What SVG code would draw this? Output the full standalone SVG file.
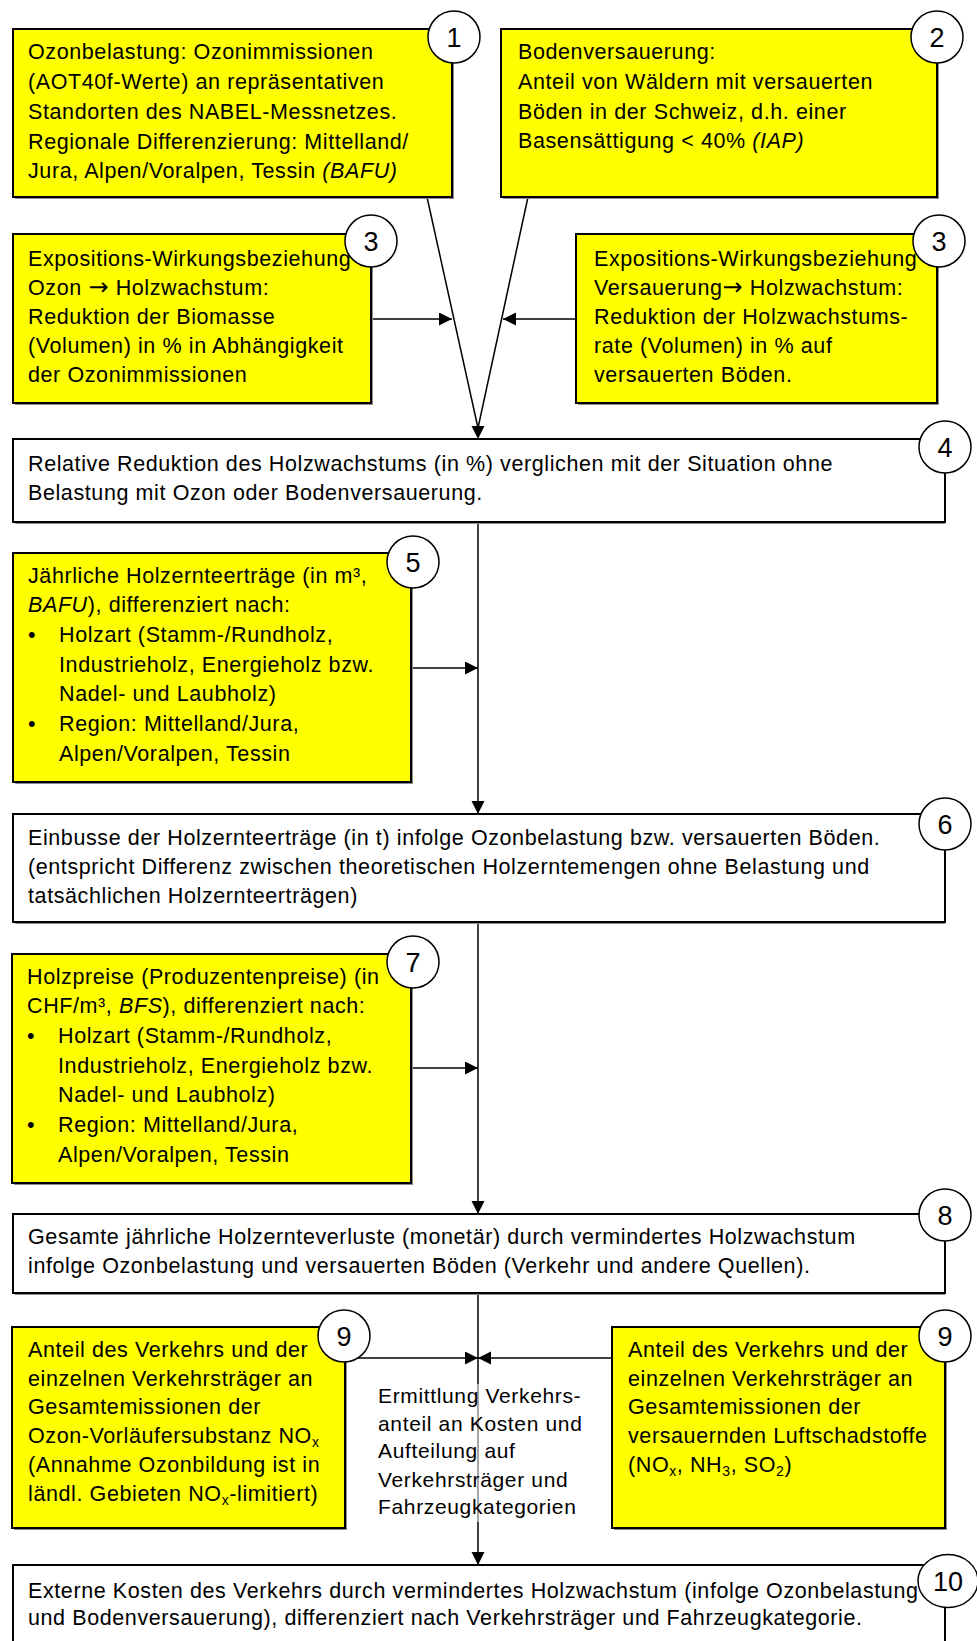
<svg xmlns="http://www.w3.org/2000/svg" width="977" height="1641" viewBox="0 0 977 1641">
<defs>
<style>
.t{font-family:"Liberation Sans",Arial,sans-serif;font-size:21.5px;letter-spacing:0.6px;fill:#000}
.c{font-family:"Liberation Sans",Arial,sans-serif;font-size:21px;letter-spacing:0.65px;fill:#000}
.n{font-family:"Liberation Sans",Arial,sans-serif;font-size:27px;fill:#000;text-anchor:middle}
.y{fill:#ffff00;stroke:#000;stroke-width:2}
.w{fill:#fff;stroke:#000;stroke-width:2}
.sh{fill:#8c8c8c}
.ci{fill:#fff;stroke:#000;stroke-width:1.5}
.ln{stroke:#000;stroke-width:1.5;fill:none}
.i{font-style:italic}
.ar{font-family:"DejaVu Sans",sans-serif;font-size:24px}
</style>
<marker id="ah" markerUnits="userSpaceOnUse" markerWidth="14" markerHeight="14" refX="13" refY="6.5" orient="auto">
<path d="M0,0 L13,6.5 L0,13 z" fill="#000"/>
</marker>
</defs>
<rect width="977" height="1641" fill="#fff"/>

<g id="connectors">
<line class="ln" x1="427" y1="197" x2="478" y2="428"/>
<line class="ln" x1="528" y1="197" x2="478" y2="428"/>
<polygon points="471.5,426 484.5,426 478,439" fill="#000"/>
<line class="ln" x1="373" y1="319" x2="452" y2="319" marker-end="url(#ah)"/>
<line class="ln" x1="576" y1="319" x2="503" y2="319" marker-end="url(#ah)"/>
<line class="ln" x1="478" y1="522" x2="478" y2="814" marker-end="url(#ah)"/>
<line class="ln" x1="411" y1="668" x2="478" y2="668" marker-end="url(#ah)"/>
<line class="ln" x1="478" y1="922" x2="478" y2="1214" marker-end="url(#ah)"/>
<line class="ln" x1="411" y1="1068" x2="478" y2="1068" marker-end="url(#ah)"/>
<line class="ln" x1="478" y1="1293" x2="478" y2="1384"/>
<line x1="478" y1="1384" x2="478" y2="1522" stroke="#888" stroke-width="1.5"/>
<line class="ln" x1="478" y1="1522" x2="478" y2="1565" marker-end="url(#ah)"/>
<line class="ln" x1="345" y1="1358" x2="478" y2="1358" marker-end="url(#ah)"/>
<line class="ln" x1="612" y1="1358" x2="478" y2="1358" marker-end="url(#ah)"/>
</g>

<g id="node1">
<rect class="sh" x="15" y="31" width="439" height="168"/>
<rect class="y" x="13" y="29" width="439" height="168"/>
<text class="t" x="28" y="59">Ozonbelastung: Ozonimmissionen</text>
<text class="t" x="28" y="89">(AOT40f-Werte) an repräsentativen</text>
<text class="t" x="28" y="119">Standorten des NABEL-Messnetzes.</text>
<text class="t" x="28" y="149">Regionale Differenzierung: Mittelland/</text>
<text class="t" x="28" y="178">Jura, Alpen/Voralpen, Tessin <tspan class="i">(BAFU)</tspan></text>
<circle class="ci" cx="454" cy="37" r="26"/>
<text class="n" x="454" y="46.5">1</text>
</g>

<g id="node2">
<rect class="sh" x="503" y="31" width="436" height="168"/>
<rect class="y" x="501" y="29" width="436" height="168"/>
<text class="t" x="518" y="59">Bodenversauerung:</text>
<text class="t" x="518" y="89">Anteil von Wäldern mit versauerten</text>
<text class="t" x="518" y="119">Böden in der Schweiz, d.h. einer</text>
<text class="t" x="518" y="148">Basensättigung &lt; 40% <tspan class="i">(IAP)</tspan></text>
<circle class="ci" cx="937" cy="37" r="26"/>
<text class="n" x="937" y="46.5">2</text>
</g>

<g id="node3a">
<rect class="sh" x="15" y="236" width="358" height="169"/>
<rect class="y" x="13" y="234" width="358" height="169"/>
<text class="t" x="28" y="266">Expositions-Wirkungsbeziehung</text>
<text class="t" x="28" y="295">Ozon <tspan class="ar">→</tspan> Holzwachstum:</text>
<text class="t" x="28" y="324">Reduktion der Biomasse</text>
<text class="t" x="28" y="353">(Volumen) in % in Abhängigkeit</text>
<text class="t" x="28" y="382">der Ozonimmissionen</text>
<circle class="ci" cx="371" cy="241" r="26"/>
<text class="n" x="371" y="250.5">3</text>
</g>

<g id="node3b">
<rect class="sh" x="578" y="236" width="361" height="169"/>
<rect class="y" x="576" y="234" width="361" height="169"/>
<text class="t" x="594" y="266">Expositions-Wirkungsbeziehung</text>
<text class="t" x="594" y="295">Versauerung<tspan class="ar">→</tspan> Holzwachstum:</text>
<text class="t" x="594" y="324">Reduktion der Holzwachstums-</text>
<text class="t" x="594" y="353">rate (Volumen) in % auf</text>
<text class="t" x="594" y="382">versauerten Böden.</text>
<circle class="ci" cx="939" cy="241" r="26"/>
<text class="n" x="939" y="250.5">3</text>
</g>

<g id="node4">
<rect class="sh" x="15" y="441" width="930" height="83"/>
<rect class="w" x="13" y="439" width="932" height="83"/>
<text class="t" x="28" y="471">Relative Reduktion des Holzwachstums (in %) verglichen mit der Situation ohne</text>
<text class="t" x="28" y="500">Belastung mit Ozon oder Bodenversauerung.</text>
<circle class="ci" cx="945" cy="447" r="26"/>
<text class="n" x="945" y="456.5">4</text>
</g>

<g id="node5">
<rect class="sh" x="15" y="555" width="398" height="229"/>
<rect class="y" x="13" y="553" width="398" height="229"/>
<text class="t" x="28" y="583">Jährliche Holzernteerträge (in m³,</text>
<text class="t" x="28" y="612"><tspan class="i">BAFU</tspan>), differenziert nach:</text>
<text class="t" x="28" y="642">•</text>
<text class="t" x="59" y="642">Holzart (Stamm-/Rundholz,</text>
<text class="t" x="59" y="672">Industrieholz, Energieholz bzw.</text>
<text class="t" x="59" y="701">Nadel- und Laubholz)</text>
<text class="t" x="28" y="731">•</text>
<text class="t" x="59" y="731">Region: Mittelland/Jura,</text>
<text class="t" x="59" y="761">Alpen/Voralpen, Tessin</text>
<circle class="ci" cx="413" cy="562" r="26"/>
<text class="n" x="413" y="571.5">5</text>
</g>

<g id="node6">
<rect class="sh" x="15" y="816" width="930" height="108"/>
<rect class="w" x="13" y="814" width="932" height="108"/>
<text class="t" x="28" y="845">Einbusse der Holzernteerträge (in t) infolge Ozonbelastung bzw. versauerten Böden.</text>
<text class="t" x="28" y="874">(entspricht Differenz zwischen theoretischen Holzerntemengen ohne Belastung und</text>
<text class="t" x="28" y="903">tatsächlichen Holzernteerträgen)</text>
<circle class="ci" cx="945" cy="824" r="26"/>
<text class="n" x="945" y="833.5">6</text>
</g>

<g id="node7">
<rect class="sh" x="14" y="956" width="399" height="229"/>
<rect class="y" x="12" y="954" width="399" height="229"/>
<text class="t" x="27" y="984">Holzpreise (Produzentenpreise) (in</text>
<text class="t" x="27" y="1013">CHF/m³, <tspan class="i">BFS</tspan>), differenziert nach:</text>
<text class="t" x="27" y="1043">•</text>
<text class="t" x="58" y="1043">Holzart (Stamm-/Rundholz,</text>
<text class="t" x="58" y="1073">Industrieholz, Energieholz bzw.</text>
<text class="t" x="58" y="1102">Nadel- und Laubholz)</text>
<text class="t" x="27" y="1132">•</text>
<text class="t" x="58" y="1132">Region: Mittelland/Jura,</text>
<text class="t" x="58" y="1162">Alpen/Voralpen, Tessin</text>
<circle class="ci" cx="413" cy="962" r="26"/>
<text class="n" x="413" y="971.5">7</text>
</g>

<g id="node8">
<rect class="sh" x="15" y="1216" width="930" height="79"/>
<rect class="w" x="13" y="1214" width="932" height="79"/>
<text class="t" x="28" y="1244">Gesamte jährliche Holzernteverluste (monetär) durch vermindertes Holzwachstum</text>
<text class="t" x="28" y="1273">infolge Ozonbelastung und versauerten Böden (Verkehr und andere Quellen).</text>
<circle class="ci" cx="945" cy="1215" r="26"/>
<text class="n" x="945" y="1224.5">8</text>
</g>

<g id="node9a">
<rect class="sh" x="14" y="1329" width="333" height="201"/>
<rect class="y" x="12" y="1327" width="333" height="201"/>
<text class="t" x="28" y="1357">Anteil des Verkehrs und der</text>
<text class="t" x="28" y="1386">einzelnen Verkehrsträger an</text>
<text class="t" x="28" y="1414">Gesamtemissionen der</text>
<text class="t" x="28" y="1443">Ozon-Vorläufersubstanz NO<tspan font-size="14" dy="4">x</tspan></text>
<text class="t" x="28" y="1472">(Annahme Ozonbildung ist in</text>
<text class="t" x="28" y="1501">ländl. Gebieten NO<tspan font-size="14" dy="4">x</tspan><tspan dy="-4">-limitiert)</tspan></text>
<circle class="ci" cx="344" cy="1336" r="26"/>
<text class="n" x="344" y="1345.5">9</text>
</g>

<g id="node9b">
<rect class="sh" x="614" y="1329" width="333" height="201"/>
<rect class="y" x="612" y="1327" width="333" height="201"/>
<text class="t" x="628" y="1357">Anteil des Verkehrs und der</text>
<text class="t" x="628" y="1386">einzelnen Verkehrsträger an</text>
<text class="t" x="628" y="1414">Gesamtemissionen der</text>
<text class="t" x="628" y="1443">versauernden Luftschadstoffe</text>
<text class="t" x="628" y="1472">(NO<tspan font-size="14" dy="4">x</tspan><tspan dy="-4">, NH</tspan><tspan font-size="14" dy="4">3</tspan><tspan dy="-4">, SO</tspan><tspan font-size="14" dy="4">2</tspan><tspan dy="-4">)</tspan></text>
<circle class="ci" cx="945" cy="1336" r="26"/>
<text class="n" x="945" y="1345.5">9</text>
</g>

<g id="label-center">
<text class="c" x="378" y="1403">Ermittlung Verkehrs-</text>
<text class="c" x="378" y="1431">anteil an Kosten und</text>
<text class="c" x="378" y="1458">Aufteilung auf</text>
<text class="c" x="378" y="1487">Verkehrsträger und</text>
<text class="c" x="378" y="1514">Fahrzeugkategorien</text>
</g>

<g id="node10">
<rect class="sh" x="15" y="1567" width="930" height="90"/>
<rect class="w" x="13" y="1565" width="932" height="90"/>
<text class="t" x="28" y="1598">Externe Kosten des Verkehrs durch vermindertes Holzwachstum (infolge Ozonbelastung</text>
<text class="t" x="28" y="1625">und Bodenversauerung), differenziert nach Verkehrsträger und Fahrzeugkategorie.</text>
<ellipse class="ci" cx="948" cy="1581" rx="30" ry="26.5"/>
<text class="n" x="948" y="1590.5">10</text>
</g>
</svg>
